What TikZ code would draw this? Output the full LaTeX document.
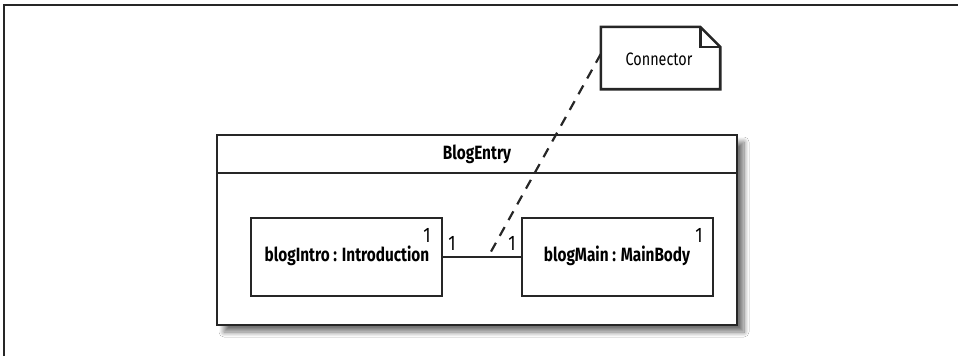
\documentclass[tikz,border=0pt]{standalone}
\usepackage{fontspec}
\setmainfont{Fira Sans}[FakeStretch=0.8]
\usetikzlibrary{shadows.blur}
\begin{document}
\begin{tikzpicture}[x=1pt,y=-1pt,
  box/.style={draw=black!85, line width=2.9pt, fill=white, inner sep=0pt},
  part/.style={box, minimum width=191pt, minimum height=78pt},
  lbl/.style={font=\bfseries\fontsize{19.2}{21}\selectfont, inner sep=0pt},
  mult/.style={font=\fontsize{21}{23}\selectfont, inner sep=0pt},
  notetext/.style={font=\fontsize{18}{20}\selectfont, inner sep=0pt}]
\useasboundingbox (0,0) rectangle (958,356);
\fill[white] (0,0) rectangle (958,356);
% frame
\draw[line width=2pt, black!85] (4,356) -- (4,5) -- (958,5);
% BlogEntry
\node[box, minimum width=520pt, minimum height=190pt,
  blur shadow={shadow xshift=7pt, shadow yshift=-7pt, shadow blur radius=5pt, shadow blur steps=10, shadow opacity=55}]
  (blogentry) at (477,230) {};
\draw[line width=2.9pt, black!85] (217,173) -- (737,173);
\node[lbl] (title) at (477,154) {BlogEntry};
% parts
\node[part] (intro) at (346.5,257) {};
\node[part] (main) at (617.5,257) {};
\node[lbl] (introtext) at (347,256) {blogIntro : Introduction};
\node[lbl] (maintext) at (617,256) {blogMain : MainBody};
\node[mult] (m1) at (427,235) {1};
\node[mult] (m4) at (699,235) {1};
\node[mult] (m2) at (452,243) {1};
\node[mult] (m3) at (512,243) {1};
% connector
\draw[line width=2.6pt, black!85] (intro.east) -- (main.west);
\coordinate (cpt) at (488,257);
% note
\node[inner sep=0pt, minimum width=119pt, minimum height=62pt] (note) at (660.5,58) {};
\draw[line width=2.6pt, black!85, line join=miter]
  (note.south west) -- (note.north west) -- ([xshift=-20pt]note.north east)
  -- ([yshift=-20pt]note.north east) -- (note.south east) -- cycle;
\draw[line width=2.6pt, black!85]
  ([xshift=-20pt]note.north east) -- ([xshift=-20pt,yshift=-20pt]note.north east)
  -- ([yshift=-20pt]note.north east);
\node[notetext] (notelabel) at (659,59) {Connector};
% dashed anchor line
\draw[line width=2.2pt, black!85, dash pattern=on 10pt off 8pt] ([yshift=4pt]note.west) -- (cpt);
\end{tikzpicture}
\end{document}
